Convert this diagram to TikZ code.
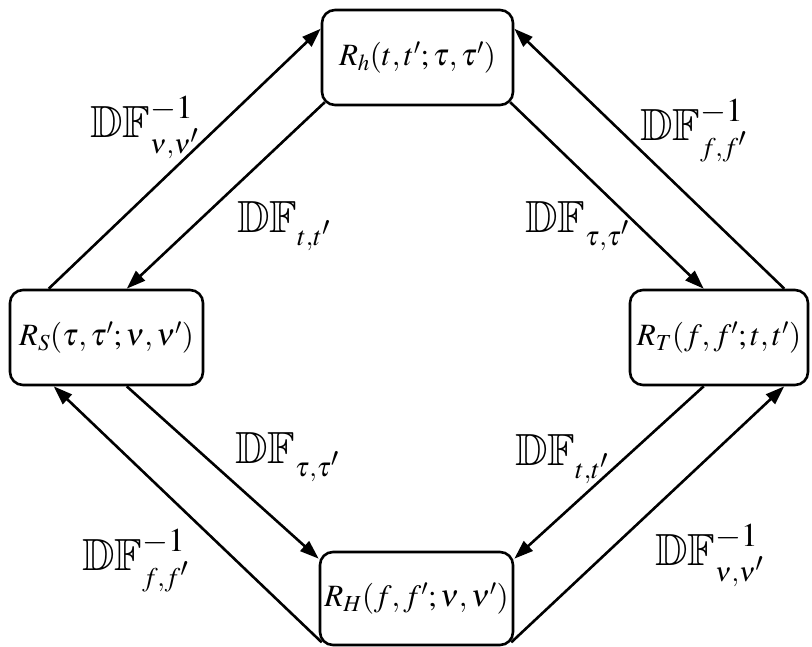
\documentclass[tikz,border=0pt]{standalone}
\usepackage{mathptmx}
\usepackage{amssymb}
\DeclareFontFamily{U}{msb}{}
\DeclareFontShape{U}{msb}{m}{n}{<-> msbm10}{}
\usetikzlibrary{arrows.meta,calc}
\newcommand{\dfl}[2]{\mathbb{DF}^{#1}_{\scriptscriptstyle #2}}
\begin{document}
\begin{tikzpicture}[x=1pt,y=-1pt,
  box/.style={draw,line width=2.6pt,rounded corners=13pt,inner sep=0pt,font=\fontsize{31}{37}\selectfont},
  conn/.style={line width=2.6pt,-{Triangle[length=19pt,width=13pt]}},
  lab/.style={anchor=base west,inner sep=0pt,font=\fontsize{45}{54}\selectfont}]
\useasboundingbox (0,0) rectangle (812,646);
\node[box,minimum width=191pt,minimum height=95pt] (h) at (417.5,57.5) {$R_h(t,t';\tau,\tau')$};
\node[box,minimum width=193pt,minimum height=95pt] (S) at (106.5,337.5) {$R_S(\tau,\tau';\nu,\nu')$};
\node[box,minimum width=178pt,minimum height=95pt] (T) at (719,337.5) {$R_T(f,f';t,t')$};
\node[box,minimum width=193pt,minimum height=93pt] (H) at (416.5,598.5) {$R_H(f,f';\nu,\nu')$};
% upper connectors
\draw[conn] ($(S.north west)+(40,0)$) -- ($(h.north west)+(0,20)$);
\draw[conn] ($(h.south west)+(4,-4)$) -- ($(S.north west)+(118,0)$);
\draw[conn] ($(h.south east)+(-4,-4)$) -- ($(T.north west)+(75,0)$);
\draw[conn] ($(T.north east)+(-25,0)$) -- ($(h.north east)+(0,20)$);
% lower connectors
\draw[conn] ($(S.south west)+(118,0)$) -- ($(H.north west)+(0,8)$);
\draw[conn] ($(H.south west)+(3,-4)$) -- ($(S.south west)+(45,0)$);
\draw[conn] ($(T.south west)+(75,0)$) -- ($(H.north east)+(0,8)$);
\draw[conn] ($(H.south east)+(-3,-4)$) -- ($(T.south east)+(-25,0)$);
% labels
\node[lab] (l1) at (90,137) {$\dfl{-1}{\nu,\nu'}$};
\node[lab] (l2) at (237,232) {$\dfl{}{t,t'}$};
\node[lab] (l3) at (525,232) {$\dfl{}{\tau,\tau'}$};
\node[lab] (l4) at (640,140) {$\dfl{-1}{f,f'}$};
\node[lab] (l5) at (235,463) {$\dfl{}{\tau,\tau'}$};
\node[lab] (l6) at (82,570) {$\dfl{-1}{f,f'}$};
\node[lab] (l7) at (515,465) {$\dfl{}{t,t'}$};
\node[lab] (l8) at (655,565) {$\dfl{-1}{\nu,\nu'}$};
\end{tikzpicture}
\end{document}
